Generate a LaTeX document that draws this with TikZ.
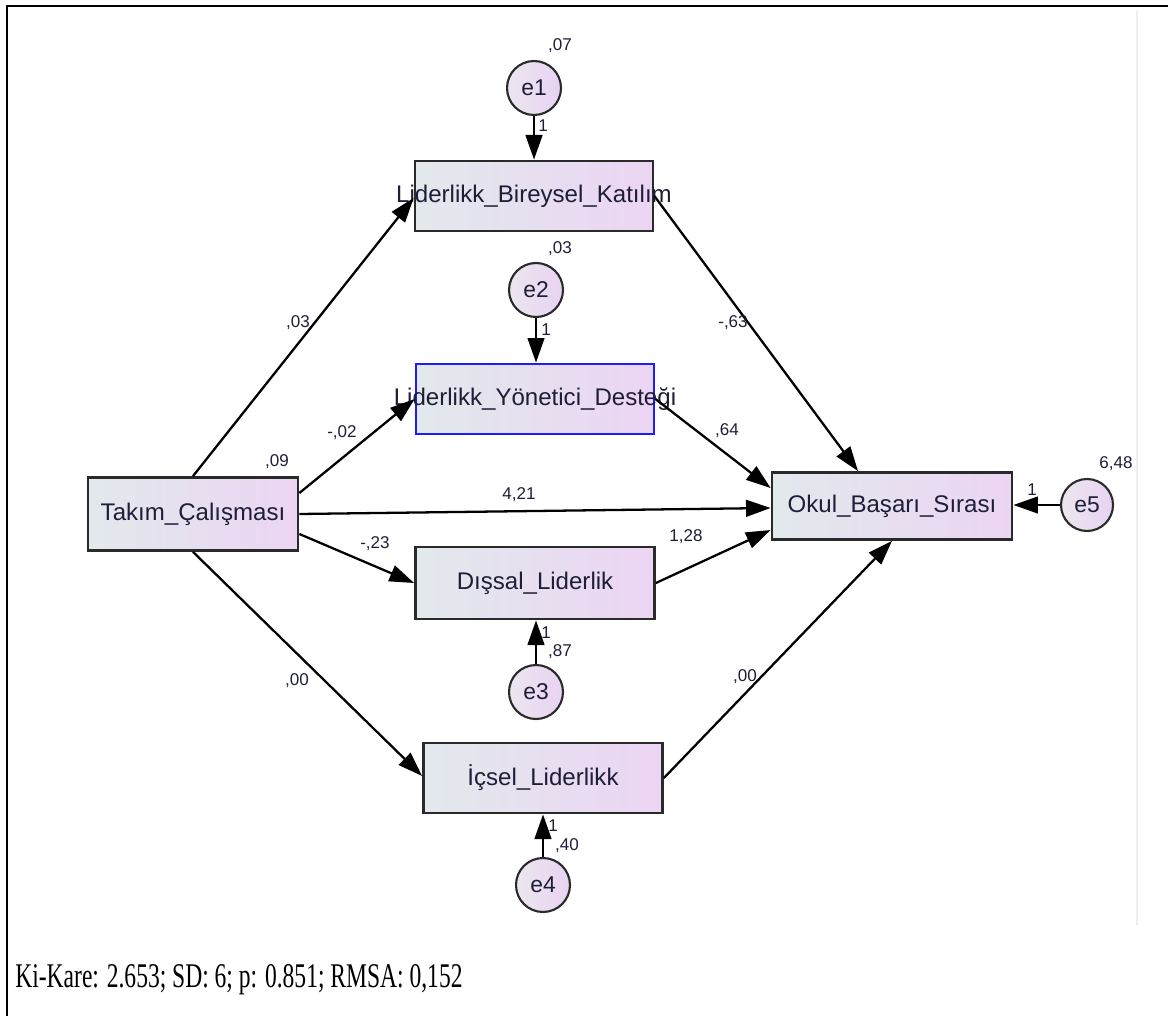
\documentclass[tikz,border=0pt]{standalone}
\usepackage{fontspec}
\usepackage{graphicx}
\setmainfont{Liberation Sans}
\newfontfamily\serifface{Liberation Serif}
\usetikzlibrary{arrows.meta,calc}
\definecolor{boxleft}{HTML}{E2E9EC}
\definecolor{boxright}{HTML}{ECD5F3}
\definecolor{circleft}{HTML}{ECE6F0}
\definecolor{circright}{HTML}{E8D3F1}
\definecolor{edgegray}{HTML}{2A2A2A}
\definecolor{ink}{HTML}{1E1E38}
\definecolor{selblue}{HTML}{1C1CFF}
\definecolor{faint}{HTML}{EFEFEF}
\begin{document}
\begin{tikzpicture}[x=0.02cm,y=-0.02cm,
  varbox/.style={draw=edgegray, line width=1.6pt, left color=boxleft, right color=boxright,
    minimum height=1.4cm, inner sep=0pt, text=ink, font=\fontsize{13.7}{16}\selectfont},
  errc/.style={circle, draw=edgegray, line width=1.2pt, left color=circleft, right color=circright,
    minimum size=1.08cm, inner sep=0pt, text=ink, font=\fontsize{13}{15}\selectfont},
  reg/.style={line width=1.3pt, draw=black, -{Triangle[length=14pt,width=9.5pt]}},
  lbl/.style={inner sep=0pt, text=ink, font=\fontsize{9.7}{11}\selectfont}]
\useasboundingbox (0,0) rectangle (1168,1016);

% frame
\draw[line width=1.4pt] (7,1016) -- (7,6) -- (1168,6);
\draw[faint, line width=1pt] (1137,10) -- (1137,925);

% observed variables
\node[varbox, minimum width=4.2cm, minimum height=1.46cm] (tak) at (193,514) {\makebox[0pt][c]{Takım\_Çalışması}};
\node[varbox, minimum width=4.76cm] (bk) at (534,196) {\makebox[0pt][c]{Liderlikk\_Bireysel\_Katılım}};
\node[varbox, draw=selblue, minimum width=4.76cm] (yd) at (535,399) {\makebox[0pt][c]{Liderlikk\_Yönetici\_Desteği}};
\node[varbox, minimum width=4.78cm, minimum height=1.44cm] (dis) at (535,583) {\makebox[0pt][c]{Dışsal\_Liderlik}};
\node[varbox, minimum width=4.78cm] (ic) at (543,778) {\makebox[0pt][c]{İçsel\_Liderlikk}};
\node[varbox, minimum width=4.8cm, minimum height=1.34cm] (okul) at (892,506) {\makebox[0pt][c]{Okul\_Başarı\_Sırası}};

% error terms
\node[errc] (e1) at (534,88) {e1};
\node[errc] (e2) at (536,290) {e2};
\node[errc] (e3) at (536,692) {e3};
\node[errc] (e4) at (543,885) {e4};
\node[errc, minimum size=1.04cm] (e5) at (1087,505) {e5};

% regression paths
\draw[reg] (tak.north) -- ([yshift=-0.04cm]bk.west);
\draw[reg] ([yshift=0.42cm]tak.east) -- (yd.west);
\draw[reg] (tak.east) -- ([yshift=-0.04cm]okul.west);
\draw[reg] ([yshift=-0.4cm]tak.east) -- (dis.west);
\draw[reg] (tak.south) -- ([yshift=0.04cm]ic.west);
\draw[reg] (bk.east) -- ([xshift=-0.68cm]okul.north);
\draw[reg] (yd.east) -- ([yshift=0.36cm]okul.west);
\draw[reg] (dis.east) -- ([yshift=-0.48cm]okul.west);
\draw[reg] (ic.east) -- (okul.south);

% error paths
\draw[reg] (e1.south) -- (e1.south |- bk.north);
\draw[reg] (e2.south) -- (e2.south |- yd.north);
\draw[reg] (e3.north) -- (e3.north |- dis.south);
\draw[reg] (e4.north) -- (e4.north |- ic.south);
\draw[reg] (e5.west) -- (e5.west -| okul.east);

% variances and fixed weights
\node[lbl] (v1) at (560,46) {,07};
\node[lbl] (v2) at (560,249) {,03};
\node[lbl] (v0) at (277,462) {,09};
\node[lbl] (v5) at (1116,464) {6,48};
\node[lbl] (v3) at (560,652) {,87};
\node[lbl] (v4) at (567,846) {,40};
\node[lbl] (w1) at (543,126) {1};
\node[lbl] (w2) at (546,330) {1};
\node[lbl] (w3) at (546,633) {1};
\node[lbl] (w4) at (553,826) {1};
\node[lbl] (w5) at (1032,490) {1};

% path coefficients
\node[lbl] (c1) at (298,323) {,03};
\node[lbl] (c2) at (342,433) {-,02};
\node[lbl] (c3) at (519,495) {4,21};
\node[lbl] (c4) at (375,544) {-,23};
\node[lbl] (c5) at (297,681) {,00};
\node[lbl] (c6) at (733,323) {-,63};
\node[lbl] (c7) at (727,431) {,64};
\node[lbl] (c8) at (686,537) {1,28};
\node[lbl] (c9) at (745,677) {,00};

% fit indices
\node[anchor=base west, inner sep=0pt] (fit) at (15,987)
  {\scalebox{0.68}[1]{\serifface\fontsize{19.7}{23}\selectfont Ki-Kare: 2.653; SD: 6; p: 0.851; RMSA: 0,152}};
\end{tikzpicture}
\end{document}
